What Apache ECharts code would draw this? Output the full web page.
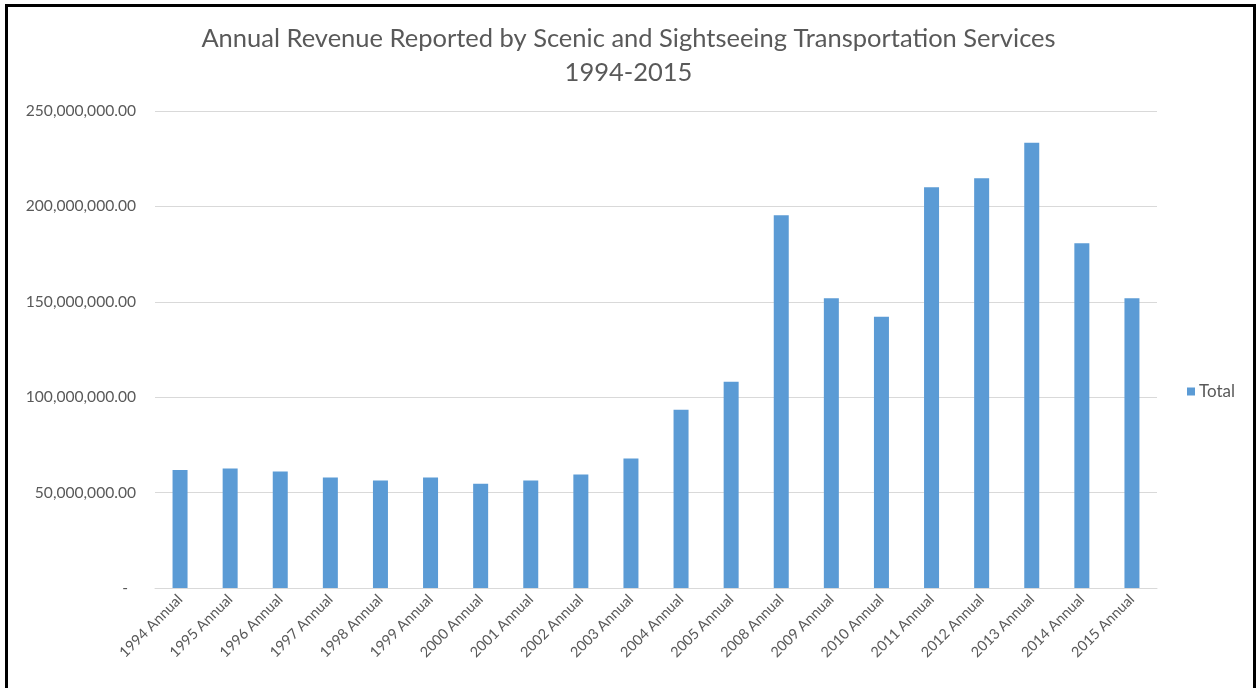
<!DOCTYPE html>
<html>
<head>
<meta charset="utf-8">
<script src="https://cdn.jsdelivr.net/npm/echarts@6/dist/echarts.min.js"></script>
<style>
html,body{margin:0;padding:0;background:#fff;}
#frame{position:absolute;left:5px;top:4px;width:1251px;height:700px;border:3px solid #000;border-bottom:none;box-sizing:border-box;}
#chart{position:absolute;left:0;top:0;width:1257px;height:688px;}
</style>
</head>
<body>
<div id="frame"></div>
<div id="chart"></div>
<script>
const categories = ["1994 Annual","1995 Annual","1996 Annual","1997 Annual","1998 Annual","1999 Annual","2000 Annual","2001 Annual","2002 Annual","2003 Annual","2004 Annual","2005 Annual","2008 Annual","2009 Annual","2010 Annual","2011 Annual","2012 Annual","2013 Annual","2014 Annual","2015 Annual"];
const totals = [61800000,62600000,61100000,57900000,56300000,57900000,54700000,56300000,59500000,67900000,93400000,108100000,195300000,151900000,142100000,210000000,214700000,233400000,180700000,151900000];
const titleLines = ["Annual Revenue Reported by Scenic and Sightseeing Transportation Services","1994-2015"];
const seriesName = "Total";

const chart = echarts.init(document.getElementById('chart'), null, {renderer:'canvas'});
const font = 'Lato, "Open Sans", sans-serif';
chart.setOption({
  animation:false,
  backgroundColor:'transparent',
  title:{
    text:titleLines.join('\n'),
    left:'center', top:17,
    textStyle:{fontFamily:font,fontSize:25.5,fontWeight:'normal',color:'#595959',lineHeight:34}
  },
  legend:{
    orient:'vertical', left:1182, top:378,
    data:[seriesName],
    itemWidth:8, itemHeight:8, itemGap:5,
    icon:'rect',
    textStyle:{fontFamily:font,fontSize:17,color:'#595959',padding:[0,0,0,-1]}
  },
  grid:{left:155,right:100,top:111,bottom:100,containLabel:false},
  xAxis:{
    type:'category',
    data:categories,
    axisLine:{lineStyle:{color:'#d9d9d9',width:1}},
    axisTick:{show:false},
    axisLabel:{rotate:45,fontFamily:font,fontSize:14.5,color:'#595959',margin:9,interval:0}
  },
  yAxis:{
    type:'value', min:0, max:250000000, interval:50000000,
    axisLine:{show:false}, axisTick:{show:false},
    splitLine:{lineStyle:{color:'#d9d9d9',width:1}},
    axisLabel:{
      fontFamily:font,fontSize:15.6,color:'#595959',margin:19,
      formatter:function(v){
        if(v===0) return '-  ';
        return v.toLocaleString('en-US',{minimumFractionDigits:2,maximumFractionDigits:2});
      }
    }
  },
  series:[{
    name:seriesName,
    type:'bar',
    data:totals,
    barWidth:15,
    itemStyle:{color:'#5b9bd5'}
  }]
});
</script>
</body>
</html>
